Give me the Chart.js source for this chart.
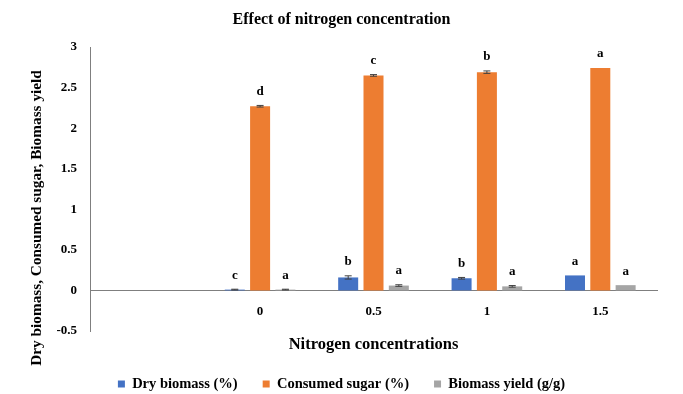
<!DOCTYPE html>
<html>
<head>
<meta charset="utf-8">
<script src="https://cdn.jsdelivr.net/npm/chart.js@4"></script>
<style>
html,body{margin:0;padding:0;background:#fff;}
#wrap{width:683px;height:394px;position:relative;}
</style>
</head>
<body>
<div id="wrap"><canvas id="c" width="683" height="394"></canvas></div>
<script>
const categories = ['', '0', '0.5', '1', '1.5'];
const dryBiomass = [null, 0.01, 0.16, 0.15, 0.185];
const consumedSugar = [null, 2.27, 2.65, 2.69, 2.74];
const biomassYield = [null, 0.01, 0.06, 0.05, 0.065];
const dryBiomassErr = [null, 0.005, 0.02, 0.01, 0];
const consumedSugarErr = [null, 0.01, 0.01, 0.015, 0];
const biomassYieldErr = [null, 0.005, 0.01, 0.01, 0];
const dryBiomassLetters = ['', 'c', 'b', 'b', 'a'];
const consumedSugarLetters = ['', 'd', 'c', 'b', 'a'];
const biomassYieldLetters = ['', 'a', 'a', 'a', 'a'];
const yTicks = [-0.5, 0, 0.5, 1, 1.5, 2, 2.5, 3];

const FONT = "'Liberation Serif', 'Times New Roman', serif";

const errLetterPlugin = {
  id: 'errLetter',
  afterDatasetsDraw(chart) {
    const ctx = chart.ctx;
    const y = chart.scales.y;
    chart.data.datasets.forEach((ds, di) => {
      const meta = chart.getDatasetMeta(di);
      meta.data.forEach((el, i) => {
        const v = ds.data[i];
        if (v === null || v === undefined) return;
        const e = ds.errors[i] || 0;
        const yTop = y.getPixelForValue(v + e);
        if (e > 0) {
          const yBot = y.getPixelForValue(v - e);
          ctx.save();
          ctx.strokeStyle = '#404040';
          ctx.lineWidth = 1;
          ctx.beginPath();
          ctx.moveTo(el.x, yTop); ctx.lineTo(el.x, yBot);
          ctx.moveTo(el.x - 3.5, yTop); ctx.lineTo(el.x + 3.5, yTop);
          ctx.moveTo(el.x - 3.5, yBot); ctx.lineTo(el.x + 3.5, yBot);
          ctx.stroke();
          ctx.restore();
        }
        const L = ds.letters[i];
        if (L) {
          ctx.save();
          ctx.fillStyle = '#000';
          ctx.font = 'bold 13px ' + FONT;
          ctx.textAlign = 'center';
          ctx.textBaseline = 'middle';
          ctx.fillText(L, el.x, yTop - 14);
          ctx.restore();
        }
      });
    });
  }
};

const yTitlePlugin = {
  id: 'yTitle',
  afterDraw(chart) {
    const ctx = chart.ctx;
    ctx.save();
    ctx.translate(37, 218);
    ctx.rotate(-Math.PI / 2);
    ctx.font = 'bold 15.3px ' + FONT;
    ctx.fillStyle = '#000';
    ctx.textAlign = 'center';
    ctx.textBaseline = 'middle';
    ctx.fillText('Dry biomass, Consumed sugar, Biomass yield', 0, 0);
    ctx.restore();
  }
};

const legendHeightPlugin = {
  id: 'legendHeight',
  beforeLayout(chart) {
    const lg = chart.legend;
    if (lg && !lg._patchedFit) {
      const orig = lg.fit;
      lg.fit = function () { orig.call(this); this.height = 63; };
      lg._patchedFit = true;
    }
  }
};

new Chart(document.getElementById('c'), {
  type: 'bar',
  data: {
    labels: categories,
    datasets: [
      { label: 'Dry biomass (%)', data: dryBiomass, errors: dryBiomassErr, letters: dryBiomassLetters, backgroundColor: '#4472C4' },
      { label: 'Consumed sugar (%)', data: consumedSugar, errors: consumedSugarErr, letters: consumedSugarLetters, backgroundColor: '#ED7D31' },
      { label: 'Biomass yield (g/g)', data: biomassYield, errors: biomassYieldErr, letters: biomassYieldLetters, backgroundColor: '#A5A5A5' }
    ]
  },
  options: {
    responsive: false,
    animation: false,
    devicePixelRatio: 1,
    categoryPercentage: 0.67,
    barPercentage: 0.79,
    layout: { padding: 0 },
    plugins: {
      tooltip: { enabled: false },
      title: {
        display: true,
        text: 'Effect of nitrogen concentration',
        color: '#000',
        font: { family: FONT, size: 16, weight: 'bold' },
        padding: { top: 10.4, bottom: 17.4 }
      },
      legend: {
        position: 'bottom',
        title: { display: true, text: ' ', font: { size: 10 }, padding: { top: 8.75, bottom: 0 } },
        labels: {
          color: '#000',
          font: { family: FONT, size: 14.5, weight: 'bold' },
          boxWidth: 7,
          boxHeight: 7,
          padding: 25
        }
      }
    },
    scales: {
      x: {
        position: { y: 0 },
        grid: { display: false },
        border: { display: true, color: '#7f7f7f', width: 1 },
        ticks: { color: '#000', font: { family: FONT, size: 13, weight: 'bold' }, padding: 5 },
        title: {
          display: true,
          text: 'Nitrogen concentrations',
          color: '#000',
          font: { family: FONT, size: 16.5, weight: 'bold' },
          padding: { top: 11, bottom: 0 }
        }
      },
      y: {
        min: -0.5,
        max: 3,
        grid: { display: false },
        border: { display: true, color: '#7f7f7f', width: 1 },
        afterFit(scale) { scale.width = 90; },
        afterBuildTicks(scale) { scale.ticks = yTicks.map(v => ({ value: v })); },
        ticks: {
          color: '#000',
          font: { family: FONT, size: 13, weight: 'bold' },
          padding: 5,
          callback: (v) => String(v)
        }
      },
      yRight: {
        type: 'linear',
        position: 'right',
        display: true,
        grid: { display: false },
        border: { display: false },
        ticks: { display: false },
        afterFit(scale) { scale.width = 26; }
      }
    }
  },
  plugins: [errLetterPlugin, yTitlePlugin, legendHeightPlugin]
});
</script>
</body>
</html>
